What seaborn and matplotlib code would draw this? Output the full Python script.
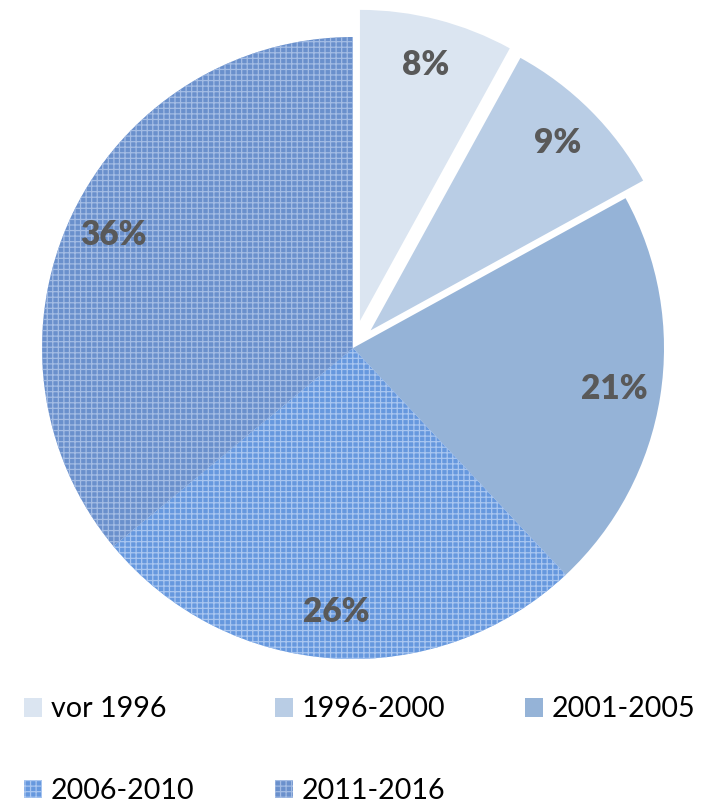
import matplotlib
matplotlib.use("Agg")
import matplotlib.pyplot as plt
import seaborn as sns

# Share of buildings by construction period
periods = ["vor 1996", "1996-2000", "2001-2005", "2006-2010", "2011-2016"]
shares = [8, 9, 21, 26, 36]

face_colors = ["#DBE5F1", "#B9CDE5", "#95B3D7", "#6698DE", "#6A90CC"]
hatch_colors = ["#DBE5F1", "#B9CDE5", "#95B3D7", "#A9C6F0", "#A3BCE4"]
hatches = [None, None, None, "+++", "+++"]
explode = [0.09, 0.08, 0, 0, 0]

sns.set_theme(style="white")
plt.rcParams["font.family"] = ["Lato", "DejaVu Sans"]
plt.rcParams["hatch.linewidth"] = 0.9

W, H = 715, 807
fig = plt.figure(figsize=(W / 100, H / 100), dpi=100)
ax = fig.add_axes([0, 0, 1, 1])

cx, cy, r = 353, 348, 311  # pie centre and radius in pixels

wedges, texts, autotexts = ax.pie(
    shares,
    explode=explode,
    startangle=90,
    counterclock=False,
    autopct="%d%%",
    pctdistance=0.85,
    wedgeprops=dict(linewidth=0),
    textprops=dict(fontsize=24, fontweight="heavy", color="#595959"),
)
for w, fc, hc, h in zip(wedges, face_colors, hatch_colors, hatches):
    w.set_facecolor(fc)
    w.set_edgecolor(hc)
    w.set_linewidth(0)
    if h:
        w.set_hatch(h)

ax.set_xlim(-cx / r, (W - cx) / r)
ax.set_ylim(-(H - cy) / r, cy / r)
ax.set_aspect("auto")
ax.axis("off")

# legend fills columns first; reorder so entries read row by row
order = [0, 3, 1, 4, 2]
leg = fig.legend(
    [wedges[i] for i in order],
    [periods[i] for i in order],
    loc="upper left",
    bbox_to_anchor=(10 / W, 1 - 682 / H),
    ncol=3,
    frameon=False,
    fontsize=20.6,
    handlelength=0.63,
    handleheight=0.63,
    handletextpad=0.3,
    columnspacing=2.8,
    labelspacing=1.95,
    borderpad=0,
)
for t in leg.get_texts():
    t.set_color("#000000")

fig.savefig("out.png", dpi=100, facecolor="white")
